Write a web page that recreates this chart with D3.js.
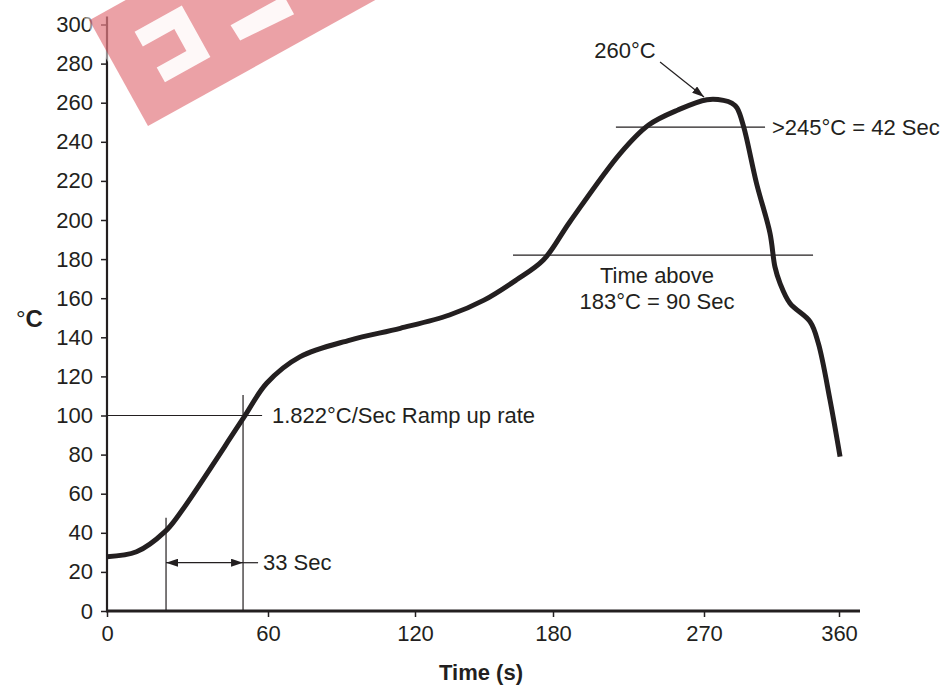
<!DOCTYPE html>
<meta charset="utf-8">
<style>
    body { margin: 0; background: #fff; }
    text { font-family: "Liberation Sans", Arial, Helvetica, sans-serif; fill: #231f20; }
    .axis text { font-size: 22px; }
    .axis line { stroke: #231f20; stroke-width: 1.5px; }
    .axis path { display: none; }
    .note { font-size: 22px; }
    .thin { stroke: #231f20; stroke-width: 1.2px; fill: none; }
    .profile { fill: none; stroke: #231f20; stroke-width: 5px; stroke-linejoin: round; stroke-linecap: butt; }
</style>
<body>
<script src="https://d3js.org/d3.v7.min.js"></script>
<script>
    // reflow profile
    var timeSec = [0, 11, 21.6, 27.2, 50.8, 59.5, 73, 93.5, 114, 135, 150, 164, 175.8,
                   190, 220, 237, 254.5, 272, 283, 288.5, 292, 296.5, 305, 314, 317.3, 320.7,
                   327.3, 340.7, 346.2, 354, 360.7];
    var tempC   = [27.8, 30.3, 40.6, 50, 98.6, 116.5, 130, 138.6, 144.6, 151.4, 159, 169.3, 179.5,
                   199, 234, 248.6, 256.3, 261.5, 261.2, 259.8, 257.3, 247.5, 218.8, 193.2, 176, 167.6,
                   157.4, 148, 137, 108, 79];

    // tick labels
    var xTicks = [0, 60, 120, 180, 270, 360];
    var yTicks = d3.range(0, 301, 20);

    // annotation values (data units)
    var rampTemp = 100, rampLineEnd = 57.8, rampText = 61.6;
    var rampStart = 22, rampEnd = 50.7, rampStartTop = 47.7, rampEndTop = 110.5;
    var arrowTemp = 24.7, arrowTail = 56.3, arrowText = 58.1;
    var aboveTemp = 182, aboveFrom = 162.6, aboveTo = 342.7, aboveText = 242, aboveRow1 = 167.8, aboveRow2 = 154.5;
    var peakTemp = 247.5, peakFrom = 217.5, peakTo = 310.7, peakText = 315.3;
    var peakLabel = [222.9, 282.9], peakArrow = [[243.8, 280.8], [270, 262.9]];

    var width = 947, height = 686;

    // the time axis is not evenly spaced in the original, so use a piecewise scale
    var x = d3.scaleLinear().domain(xTicks).range([107, 268, 415, 553, 704, 839]);
    var y = d3.scaleLinear().domain([0, 300]).range([611, 24.5]);

    var svg = d3.select("body").append("svg")
        .attr("width", width)
        .attr("height", height);

    var defs = svg.append("defs");
    defs.append("marker")
        .attr("id", "head")
        .attr("viewBox", "0 0 12 8")
        .attr("refX", 12).attr("refY", 4)
        .attr("markerWidth", 12).attr("markerHeight", 8)
        .attr("markerUnits", "userSpaceOnUse")
        .attr("orient", "auto-start-reverse")
      .append("path")
        .attr("d", "M0,0L12,4L0,8Z")
        .attr("fill", "#231f20");

    // axes
    svg.append("g")
        .attr("class", "axis")
        .attr("transform", "translate(0," + y(0) + ")")
        .call(d3.axisBottom(x).tickValues(xTicks).tickSize(6).tickPadding(8).tickSizeOuter(0));

    svg.append("g")
        .attr("class", "axis")
        .attr("transform", "translate(" + x(0) + ",0)")
        .call(d3.axisLeft(y).tickValues(yTicks).tickSize(6).tickPadding(8).tickSizeOuter(0));

    // axis lines run a little past the last ticks
    svg.append("line")
        .attr("x1", x(0)).attr("x2", x(360) + 21)
        .attr("y1", y(0)).attr("y2", y(0))
        .attr("stroke", "#231f20").attr("stroke-width", 3);
    svg.append("line")
        .attr("x1", x(0)).attr("x2", x(0))
        .attr("y1", y(0) + 1.5).attr("y2", y(300) - 8)
        .attr("stroke", "#231f20").attr("stroke-width", 2.2);

    // axis titles
    svg.append("text")
        .attr("x", 481).attr("y", 680)
        .style("text-anchor", "middle")
        .style("font-size", "22px")
        .style("font-weight", "bold")
        .text("Time (s)");

    var yTitle = svg.append("text")
        .attr("x", 16).attr("y", y(150) + 9)
        .style("font-size", "24px");
    yTitle.append("tspan").text("°");
    yTitle.append("tspan").style("font-weight", "bold").text("C");

    // annotation lines
    svg.append("line").attr("class", "thin")
        .attr("x1", x(0)).attr("x2", x(rampLineEnd))
        .attr("y1", y(rampTemp)).attr("y2", y(rampTemp));
    svg.append("line").attr("class", "thin")
        .attr("x1", x(rampStart)).attr("x2", x(rampStart))
        .attr("y1", y(0)).attr("y2", y(rampStartTop));
    svg.append("line").attr("class", "thin")
        .attr("x1", x(rampEnd)).attr("x2", x(rampEnd))
        .attr("y1", y(0)).attr("y2", y(rampEndTop));
    svg.append("line").attr("class", "thin")
        .attr("x1", x(rampStart)).attr("x2", x(rampEnd))
        .attr("y1", y(arrowTemp)).attr("y2", y(arrowTemp))
        .attr("marker-start", "url(#head)")
        .attr("marker-end", "url(#head)");
    svg.append("line").attr("class", "thin")
        .attr("x1", x(rampEnd)).attr("x2", x(arrowTail))
        .attr("y1", y(arrowTemp)).attr("y2", y(arrowTemp));
    svg.append("line").attr("class", "thin")
        .attr("x1", x(aboveFrom)).attr("x2", x(aboveTo))
        .attr("y1", y(aboveTemp)).attr("y2", y(aboveTemp));
    svg.append("line").attr("class", "thin")
        .attr("x1", x(peakFrom)).attr("x2", x(peakTo))
        .attr("y1", y(peakTemp)).attr("y2", y(peakTemp));
    svg.append("line").attr("class", "thin")
        .attr("x1", x(peakArrow[0][0])).attr("y1", y(peakArrow[0][1]))
        .attr("x2", x(peakArrow[1][0])).attr("y2", y(peakArrow[1][1]))
        .attr("marker-end", "url(#head)");

    // the profile curve
    var line = d3.line()
        .x(function(d, i) { return x(timeSec[i]); })
        .y(function(d) { return y(d); })
        .curve(d3.curveCatmullRom.alpha(0.5));

    svg.append("path")
        .datum(tempC)
        .attr("class", "profile")
        .attr("d", line);

    // annotation text
    svg.append("text").attr("class", "note")
        .attr("x", x(rampText)).attr("y", y(rampTemp)).attr("dy", "0.35em")
        .text("1.822°C/Sec Ramp up rate");
    svg.append("text").attr("class", "note")
        .attr("x", x(arrowText)).attr("y", y(arrowTemp)).attr("dy", "0.35em")
        .text("33 Sec");
    svg.append("text").attr("class", "note")
        .attr("x", x(aboveText)).attr("y", y(aboveRow1))
        .style("text-anchor", "middle")
        .text("Time above");
    svg.append("text").attr("class", "note")
        .attr("x", x(aboveText)).attr("y", y(aboveRow2))
        .style("text-anchor", "middle")
        .text("183°C = 90 Sec");
    svg.append("text").attr("class", "note")
        .attr("x", x(peakText)).attr("y", y(peakTemp)).attr("dy", "0.35em")
        .text(">245°C = 42 Sec");
    svg.append("text").attr("class", "note")
        .attr("x", x(peakLabel[0])).attr("y", y(peakLabel[1]))
        .style("text-anchor", "middle")
        .text("260°C");

    // pink stamp in the top left corner
    var stamp = svg.append("g")
        .attr("transform", "translate(148,126) rotate(-29)");
    stamp.append("rect")
        .attr("x", -4).attr("y", -125).attr("width", 310).attr("height", 129)
        .attr("fill", "#fff").attr("opacity", 0.5);
    stamp.append("rect")
        .attr("x", 0).attr("y", -121).attr("width", 300).attr("height", 121)
        .attr("fill", "#d0202a").attr("opacity", 0.42);
    stamp.append("path")
        .attr("d", "M34,-89L88,-89L88,-30L36,-30L36,-47L70,-47L70,-72L34,-72Z")
        .attr("fill", "#fff").attr("opacity", 0.92);
    stamp.append("path")
        .attr("d", "M121,-48L182,-48L182,-27L122,-30Z")
        .attr("fill", "#fff").attr("opacity", 0.92);
</script>
</body>
